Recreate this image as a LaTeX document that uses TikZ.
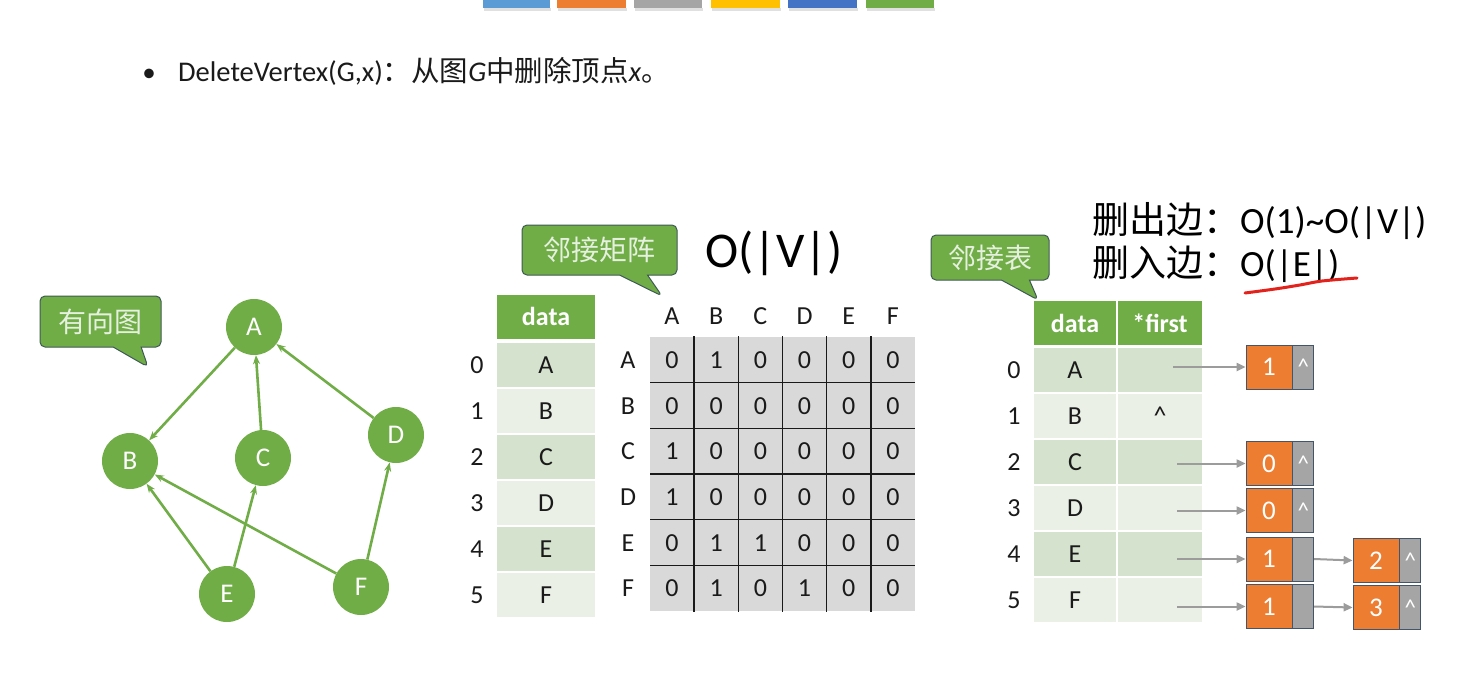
\documentclass[tikz,border=0pt]{standalone}
\usepackage{fontspec}
\setmainfont{Carlito}
\newfontfamily\cjk{Noto Sans CJK SC}
\usetikzlibrary{shapes.callouts,arrows.meta}
\definecolor{gr}{HTML}{70AD47}
\definecolor{cbd}{HTML}{3F5A55}
\definecolor{ctx}{HTML}{E6F0DF}
\definecolor{rowa}{HTML}{D5E3CE}
\definecolor{rowb}{HTML}{EAF0E6}
\definecolor{mgray}{HTML}{D9D9D9}
\definecolor{org}{HTML}{ED7D31}
\definecolor{lgray}{HTML}{A5A5A5}
\definecolor{lbd}{HTML}{44546A}
\definecolor{arrg}{HTML}{9C9C9C}
\definecolor{bblue}{HTML}{5B9BD5}
\definecolor{byel}{HTML}{FFC000}
\definecolor{bdblue}{HTML}{4472C4}
\definecolor{txt}{HTML}{1A1A1A}
\definecolor{redl}{HTML}{E3221C}
\newcommand\myfs[1]{\fontsize{#1}{#1}\selectfont}
\tikzset{
  vtx/.style={circle, fill=gr, minimum size=56pt, inner sep=0pt, text=white, font=\myfs{27}},
  gedge/.style={draw=gr, line width=2.6pt, -{Stealth[length=9pt,width=7pt]}},
  callbox/.style={rectangle callout, fill=gr, draw=cbd, line width=1pt, rounded corners=5pt,
    text=ctx, font=\cjk\myfs{28}, inner sep=0pt, callout pointer width=28pt},
  cell/.style={minimum height=44pt, inner sep=0pt, text=txt, font=\myfs{26}},
  hdr/.style={fill=gr, minimum height=44pt, inner sep=0pt, text=white, font=\bfseries\myfs{26}},
  lbl/.style={inner sep=0pt, text=txt, font=\myfs{26}},
  lval/.style={fill=org, draw=lbd, line width=0.8pt, minimum width=46pt, minimum height=44pt,
    inner sep=0pt, text=white, font=\myfs{27}},
  lptr/.style={fill=lgray, draw=lbd, line width=0.8pt, minimum width=21pt, minimum height=44pt,
    inner sep=0pt, text=white, font=\myfs{23}, anchor=west},
  larr/.style={draw=arrg, line width=2pt, -{Triangle[length=9pt,width=8pt]}},
  gline/.style={draw=txt, line width=1.5pt}
}
\begin{document}
\begin{tikzpicture}[x=1pt,y=-1pt]
\useasboundingbox (0,0) rectangle (1467,683);
\fill[white] (0,0) rectangle (1467,683);
% top colour bars
\foreach \xa/\xb/\c in {483/550/bblue,557/626/org,634/702/lgray,711/780/byel,788/857/bdblue,866/934/gr}{
  \fill[black!12] (\xa+1,8) rectangle (\xb+1,11);
  \fill[\c] (\xa,0) rectangle (\xb,8);
}
% bullet line
\node[anchor=base, inner sep=0pt, font=\myfs{27}, text=txt] (bul) at (149,81) {•};
\node[anchor=base west, inner sep=0pt, font=\myfs{28.5}, text=txt] (title) at (178,81)
  {DeleteVertex(G,x){\cjk ：从图}\textit{G}{\cjk 中删除顶点}\textit{x}{\cjk 。}};
% callouts
\node[callbox, minimum width=121pt, minimum height=51pt, callout absolute pointer={(148,367)}] (c1) at (100.5,321.5) {有向图};
\node[callbox, minimum width=155pt, minimum height=50pt, callout absolute pointer={(662,296)}] (c2) at (599.5,250) {邻接矩阵};
\node[callbox, minimum width=118pt, minimum height=45pt, callout absolute pointer={(1038,300)}] (c3) at (990,257.5) {邻接表};
% graph
\node[vtx] (A) at (254,327) {A};
\node[vtx] (B) at (130,461) {B};
\node[vtx] (C) at (263,458) {C};
\node[vtx] (D) at (396,435) {D};
\node[vtx] (E) at (227,594) {E};
\node[vtx] (F) at (361,587) {F};
\draw[gedge] (A) -- (B);
\draw[gedge] (C) -- (A);
\draw[gedge] (D) -- (A);
\draw[gedge] (E) -- (B);
\draw[gedge] (E) -- (C);
\draw[gedge] (F) -- (B);
\draw[gedge] (F) -- (D);
% complexity
\node[anchor=base west, inner sep=0pt, font=\myfs{50}, text=black] (ov) at (705,267) {O(|V|)};
\node[anchor=base west, inner sep=0pt, font=\myfs{37}, text=black] (del1) at (1092,233)
  {{\cjk 删出边：}O(1)\textasciitilde O(|V|)};
\node[anchor=base west, inner sep=0pt, font=\myfs{37}, text=black] (del2) at (1092,276)
  {{\cjk 删入边：}O(|E|)};
\draw[redl, line width=3pt, line cap=round] plot[smooth] coordinates {(1245,293) (1275,289) (1300,285) (1322,281) (1357,278)};
% data table (matrix side)
\node[hdr, minimum width=98pt] (dh) at (546,316.5) {data};
\foreach \l/\c [count=\i from 0] in {A/rowa,B/rowb,C/rowa,D/rowb,E/rowa,F/rowb}{
  \node[cell, fill=\c, minimum width=98pt] (d\i) at (546,365+46*\i) {\l};
  \node[lbl] (di\i) at (477,365+46*\i) {\i};
}
% adjacency matrix
\fill[mgray] (650,337) rectangle (915,611);
\foreach \j in {1,...,5}{
  \draw[gline] (650+44.17*\j,336) -- (650+44.17*\j,612);
}
\foreach \i in {1,...,5}{
  \draw[gline] (650,337+45.67*\i) -- (915,337+45.67*\i);
}
\foreach \l [count=\j from 0] in {A,B,C,D,E,F}{
  \node[lbl] (mc\j) at (672+44.17*\j,316) {\l};
  \node[lbl] (mr\j) at (628,360+45.67*\j) {\l};
}
\foreach \r [count=\i from 0] in {{0,1,0,0,0,0},{0,0,0,0,0,0},{1,0,0,0,0,0},{1,0,0,0,0,0},{0,1,1,0,0,0},{0,1,0,1,0,0}}{
  \foreach \v [count=\j from 0] in \r {
    \node[cell] (m\i\j) at (672+44.17*\j,360+45.67*\i) {\v};
  }
}
% adjacency list table
\node[hdr, minimum width=82pt] (ah1) at (1075,323) {data};
\node[hdr, minimum width=84pt] (ah2) at (1160,323) {*first};
\foreach \l/\c/\f [count=\i from 0] in {A/rowa/,B/rowb/\^{},C/rowa/,D/rowb/,E/rowa/,F/rowb/}{
  \node[cell, fill=\c, minimum width=82pt] (ad\i) at (1075,370+46*\i) {\l};
  \node[cell, fill=\c, minimum width=84pt] (af\i) at (1160,370+46*\i) {\f};
  \node[lbl] (ai\i) at (1014,370+46*\i) {\i};
}
% list nodes
\node[lval] (n0) at (1269,367) {1};
\node[lptr] (p0) at (n0.east) {\^{}};
\node[lval] (n2) at (1269,463.5) {0};
\node[lptr] (p2) at (n2.east) {\^{}};
\node[lval] (n3) at (1269,510.5) {0};
\node[lptr] (p3) at (n3.east) {\^{}};
\node[lval] (n4) at (1269,559) {1};
\node[lptr] (p4) at (n4.east) {};
\node[lval] (q4) at (1376,560.5) {2};
\node[lptr] (r4) at (q4.east) {\^{}};
\node[lval] (n5) at (1269,606.5) {1};
\node[lptr] (p5) at (n5.east) {};
\node[lval] (q5) at (1376,607.5) {3};
\node[lptr] (r5) at (q5.east) {\^{}};
\coordinate (s0) at (1173,367);
\coordinate (s2) at (1177,463.5);
\coordinate (s3) at (1177,510.5);
\coordinate (s4) at (1177,559);
\coordinate (s5) at (1177,606.5);
\draw[larr] (s0) -- (n0.west);
\draw[larr] (s2) -- (n2.west);
\draw[larr] (s3) -- (n3.west);
\draw[larr] (s4) -- (n4.west);
\draw[larr] (s5) -- (n5.west);
\draw[larr] (p4.east) -- (q4.west);
\draw[larr] (p5.east) -- (q5.west);
\end{tikzpicture}
\end{document}
